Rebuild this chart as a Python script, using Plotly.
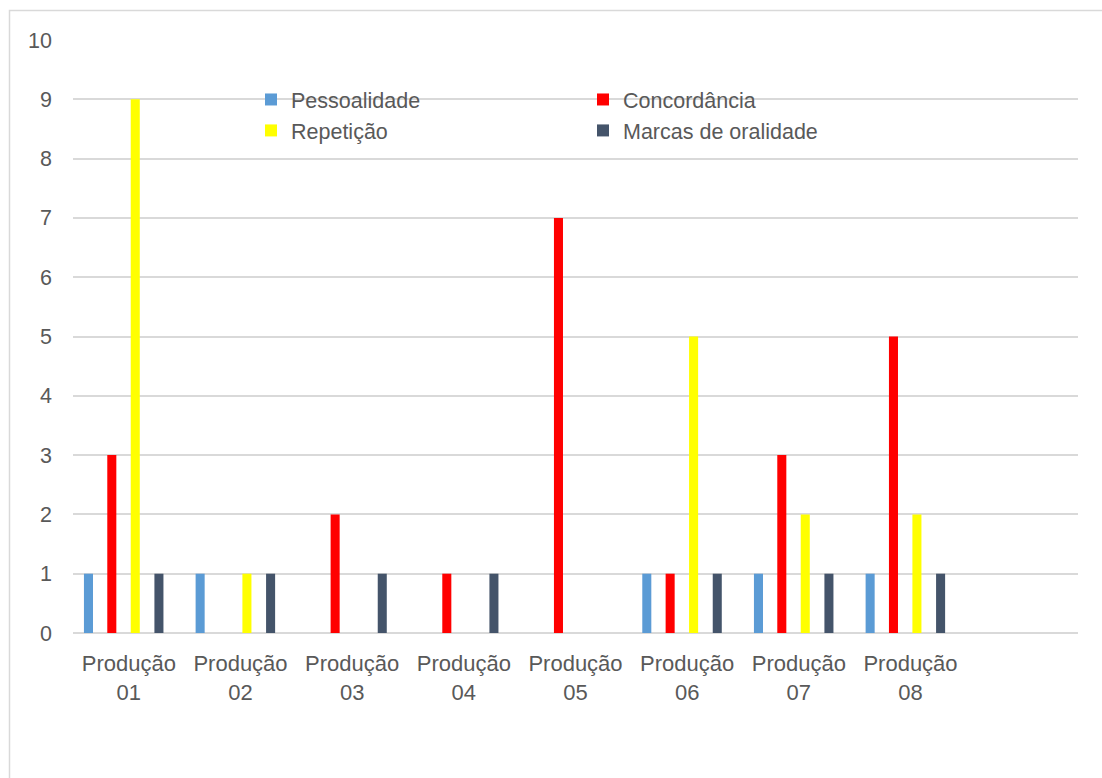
import plotly.graph_objects as go

categories = ["Produção<br>01", "Produção<br>02", "Produção<br>03", "Produção<br>04",
              "Produção<br>05", "Produção<br>06", "Produção<br>07", "Produção<br>08"]
series_names = ["Pessoalidade", "Concordância", "Repetição", "Marcas de oralidade"]
pessoalidade = [1, 1, 0, 0, 0, 1, 1, 1]
concordancia = [3, 0, 2, 1, 7, 1, 3, 5]
repeticao = [9, 1, 0, 0, 0, 5, 2, 2]
marcas_oralidade = [1, 1, 1, 1, 0, 1, 1, 1]
y_ticks = [0, 1, 2, 3, 4, 5, 6, 7, 8, 9, 10]

values = [pessoalidade, concordancia, repeticao, marcas_oralidade]
colors = ["#5B9BD5", "#FF0000", "#FFFF00", "#44546A"]
offsets = [-0.402, -0.193, 0.017, 0.229]
legends = ["legend", "legend2", "legend", "legend2"]

W, H = 1102, 778
ML, MR, MT, MB = 73, 24, 40, 145
PW = W - ML - MR
PH = H - MT - MB

x_pos = list(range(len(categories)))
FONT = "Liberation Sans, Arial, sans-serif"
TXT = "#595959"

fig = go.Figure()
for name, vals, col, off, lg in zip(series_names, values, colors, offsets, legends):
    fig.add_trace(go.Bar(
        x=x_pos, y=vals, name=name, marker=dict(color=col, line=dict(width=0)),
        width=0.081, offset=off, legend=lg,
    ))

def px_x(p):
    return (p - ML) / PW

def px_y(p):
    return 1 - (p - MT) / PH

fig.update_layout(
    width=W, height=H,
    margin=dict(l=ML, r=MR, t=MT, b=MB, pad=0),
    paper_bgcolor="white", plot_bgcolor="white",
    barmode="overlay",
    font=dict(family=FONT, size=21, color=TXT),
    showlegend=True,
    legend=dict(x=px_x(251), y=px_y(79), xanchor="left", yanchor="top",
                orientation="v", bgcolor="rgba(0,0,0,0)",
                font=dict(family=FONT, size=21.5, color=TXT), itemwidth=30),
    legend2=dict(x=px_x(583), y=px_y(79), xanchor="left", yanchor="top",
                 orientation="v", bgcolor="rgba(0,0,0,0)",
                 font=dict(family=FONT, size=21.5, color=TXT), itemwidth=30),
    xaxis=dict(range=[-0.5, 8.5], tickvals=x_pos, ticktext=categories,
               showgrid=False, zeroline=False, showline=False, ticks="",
               ticklabelstandoff=15, tickfont=dict(family=FONT, size=22, color=TXT)),
    yaxis=dict(range=[0, 10], tickvals=y_ticks, showgrid=True, gridcolor="#d9d9d9",
               gridwidth=1.5, zeroline=True, zerolinecolor="#d9d9d9", zerolinewidth=1.5,
               showline=False, ticks="", ticklabelstandoff=20,
               tickfont=dict(family=FONT, size=21.5, color=TXT)),
    shapes=[dict(type="rect", xref="paper", yref="paper",
                 x0=px_x(9.5), x1=px_x(1120), y0=px_y(10.5), y1=px_y(800),
                 line=dict(color="#d9d9d9", width=1.5), layer="below")],
)

fig.write_html("out.html")
